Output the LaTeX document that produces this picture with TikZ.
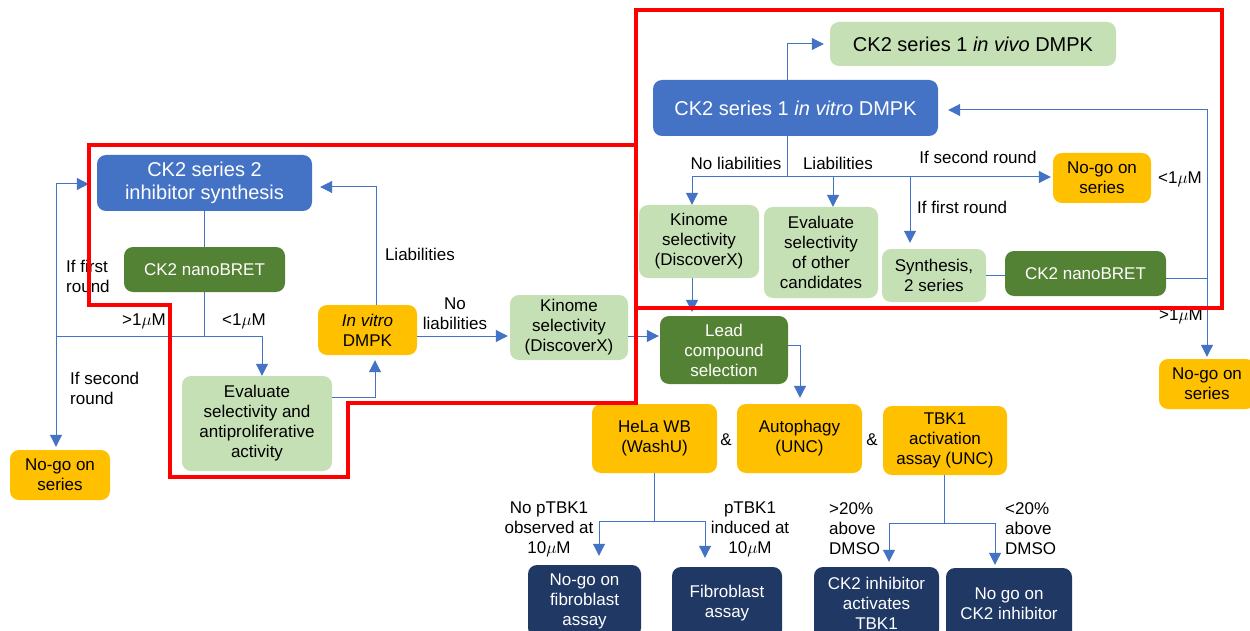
\documentclass[tikz,border=0pt]{standalone}
\usepackage{fontspec}
\setmainfont{Liberation Sans}
\usetikzlibrary{arrows.meta,calc}
\definecolor{cblue}{HTML}{4472C4}
\definecolor{dgreen}{HTML}{548235}
\definecolor{lgreen}{HTML}{C5E0B4}
\definecolor{corange}{HTML}{FFC000}
\definecolor{navy}{HTML}{203864}
\begin{document}
\begin{tikzpicture}[x=1pt,y=-1pt,
  box/.style={rounded corners=9pt, align=center, inner sep=0pt, font=\fontsize{17}{20}\selectfont},
  bigfont/.style={font=\fontsize{20}{23}\selectfont},
  bluebox/.style={box, bigfont, fill=cblue, text=white},
  dgbox/.style={box, fill=dgreen, text=white},
  lgbox/.style={box, fill=lgreen},
  orbox/.style={box, fill=corange},
  nvbox/.style={box, fill=navy, text=white},
  wh/.style 2 args={minimum width=#1pt, minimum height=#2pt},
  lbl/.style={font=\fontsize{17}{20}\selectfont, inner sep=0pt, align=center},
  conn/.style={draw=cblue, line width=1pt},
  arr/.style={conn, -{Triangle[length=12pt,width=12pt]}},
  redline/.style={draw=red, line width=4pt}]
\useasboundingbox (0,0) rectangle (1250,631);
\fill[white] (0,0) rectangle (1250,631);
\clip (0,0) rectangle (1250,631);

% ---------- nodes ----------
\node[lgbox, bigfont, wh={286}{44}] (invivo) at (973,44) {CK2 series 1 \emph{in vivo} DMPK};
\node[bluebox, wh={285}{56}] (invitro1) at (795.5,108) {CK2 series 1 \emph{in vitro} DMPK};
\node[orbox, wh={98}{50}] (nogo1) at (1102,178) {No-go on\\series};
\node[lgbox, wh={120}{73}] (kinome1) at (699,241.5) {Kinome\\selectivity\\(DiscoverX)};
\node[lgbox, wh={114}{91}] (evalother) at (821,252.5) {Evaluate\\selectivity\\of other\\candidates};
\node[lgbox, wh={104}{53}] (synth) at (934,275.5) {Synthesis,\\2 series};
\node[dgbox, wh={161}{45}] (nano1) at (1085.5,273.5) {CK2 nanoBRET};
\node[orbox, wh={96}{50}] (nogo3) at (1207,384) {No-go on\\series};
\node[bluebox, wh={215}{56}] (s2synth) at (204.5,183) {CK2 series 2\\inhibitor synthesis};
\node[dgbox, wh={161}{45}] (nano2) at (204.5,269.5) {CK2 nanoBRET};
\node[lgbox, wh={150}{95}] (eval2) at (257,423.5) {Evaluate\\selectivity and\\antiproliferative\\activity};
\node[orbox, wh={99}{50}] (invitro2) at (367.5,330) {\emph{In vitro}\\DMPK};
\node[lgbox, wh={118}{65}] (kinome2) at (569,327.5) {Kinome\\selectivity\\(DiscoverX)};
\node[orbox, wh={100}{50}] (nogo2) at (60,475) {No-go on\\series};
\node[dgbox, wh={128}{68}] (lead) at (724,350) {Lead\\compound\\selection};
\node[orbox, wh={125}{69}] (hela) at (654.5,438.5) {HeLa WB\\(WashU)};
\node[orbox, wh={125}{69}] (autoph) at (799.5,438.5) {Autophagy\\(UNC)};
\node[orbox, wh={124}{69}] (tbk1) at (945,440.5) {TBK1\\activation\\assay (UNC)};
\node[nvbox, wh={113}{72}] (nogofib) at (584.5,601) {No-go on\\fibroblast\\assay};
\node[nvbox, wh={110}{72}] (fibro) at (727,603) {Fibroblast\\assay};
\node[nvbox, wh={125}{72}] (ck2act) at (876.5,603) {CK2 inhibitor\\activates\\TBK1};
\node[nvbox, wh={126}{72}] (nogock2) at (1009,604) {No go on\\CK2 inhibitor};

% ---------- connectors: top right ----------
\coordinate (jT) at (787,177);
\coordinate (h1) at (692,177);
\coordinate (h2) at (833,177);
\coordinate (h3) at (910,177);
\draw[arr, shorten >=6pt] (invitro1.north -| jT) |- (invivo.west);
\draw[conn] (invitro1.south -| jT) -- (jT);
\draw[arr, shorten >=2pt] (h1) -- (jT -| nogo1.west);
\draw[arr] (h1) -- (h1 |- kinome1.north);
\draw[arr] (h2) -- (h2 |- evalother.north);
\draw[arr, shorten >=6pt] (h3) -- (h3 |- synth.north);
\draw[conn] (synth.east) -- (synth.east -| nano1.west);
\coordinate (jR) at (1207,278);
\coordinate (topR) at (1207,110);
\draw[conn] (nano1.east |- jR) -- (jR);
\draw[arr, shorten >=10pt] (jR) -- (topR) -- (topR -| invitro1.east);
\draw[arr, shorten >=2pt] (jR) -- (nogo3.north);
\draw[arr, shorten >=4pt] (kinome1.south -| h1) -- (h1 |- lead.north);

% ---------- connectors: left ----------
\coordinate (L1) at (56,184);
\coordinate (L2) at (56,336);
\coordinate (L3) at (262,336);
\draw[conn] (s2synth.south) -- (nano2.north);
\draw[conn] (nano2.south) -- (nano2.south |- L2);
\draw[conn] (L2) -- (L3);
\draw[arr] (L3) -- (L3 |- eval2.north);
\draw[arr, shorten >=8pt] (L2) -- (L1) -- (L1 -| s2synth.west);
\draw[arr, shorten >=3pt] (L2) -- (L2 |- nogo2.north);
\coordinate (E1) at (375,397);
\draw[arr, shorten >=5pt] (eval2.east |- E1) -- (E1) -- (E1 |- invitro2.south);
\coordinate (V1) at (376,187);
\draw[arr, shorten >=8pt] (invitro2.north -| V1) -- (V1) -- (V1 -| s2synth.east);
\coordinate (R1) at (0,336);
\draw[arr, shorten >=2pt] (invitro2.east |- R1) -- (kinome2.west |- R1);
\draw[arr, shorten >=1pt] (kinome2.east |- R1) -- (lead.west |- R1);

% ---------- connectors: bottom ----------
\coordinate (D1) at (800,345);
\draw[arr, shorten >=6pt] (lead.east |- D1) -- (D1) -- (D1 |- autoph.north);
\coordinate (Hj) at (654,521);
\coordinate (Hl) at (599,521);
\coordinate (Hr) at (705,521);
\draw[conn] (hela.south -| Hj) -- (Hj);
\draw[conn] (Hl) -- (Hr);
\draw[arr, shorten >=9pt] (Hl) -- (Hl |- nogofib.north);
\draw[arr, shorten >=9pt] (Hr) -- (Hr |- fibro.north);
\coordinate (Tj) at (944,523);
\coordinate (Tl) at (889,523);
\coordinate (Tr) at (995,523);
\draw[conn] (tbk1.south -| Tj) -- (Tj);
\draw[conn] (Tl) -- (Tr);
\draw[arr, shorten >=5pt] (Tl) -- (Tl |- ck2act.north);
\draw[arr, shorten >=3pt] (Tr) -- (Tr |- nogock2.north);

% ---------- labels ----------
\node[lbl] (t1) at (736,163) {No liabilities};
\node[lbl] (t2) at (838,163) {Liabilities};
\node[lbl] (t3) at (978,157) {If second round};
\node[lbl, anchor=west] (t4) at (917,207) {If first round};
\node[lbl] (t5) at (1180,179) {<1$\mu$M};
\node[lbl] (t6) at (1181,316) {>1$\mu$M};
\node[lbl] (t7) at (420,254) {Liabilities};
\node[lbl] (t8) at (455,314) {No\\liabilities};
\node[lbl] (t9) at (144,321) {>1$\mu$M};
\node[lbl] (t10) at (244,321) {<1$\mu$M};
\node[lbl, align=left, anchor=west] (t11) at (66,276) {If first\\round};
\node[lbl, align=left, anchor=west] (t12) at (70,388) {If second\\round};
\node[lbl] (t13) at (726,440) {\&};
\node[lbl] (t14) at (872,440) {\&};
\node[lbl] (t15) at (549,529) {No pTBK1\\observed at\\10$\mu$M};
\node[lbl] (t16) at (750,529) {pTBK1\\induced at\\10$\mu$M};
\node[lbl, align=left, anchor=west] (t17) at (829,529) {>20\%\\above\\DMSO};
\node[lbl, align=left, anchor=west] (t18) at (1005,529) {<20\%\\above\\DMSO};

% ---------- red outlines ----------
\draw[redline] (636,10) rectangle (1222,308);
\draw[redline] (89,145) -- (636,145) -- (636,403) -- (348,403) -- (348,477) -- (170,477) -- (170,305) -- (89,305) -- cycle;
\end{tikzpicture}
\end{document}
